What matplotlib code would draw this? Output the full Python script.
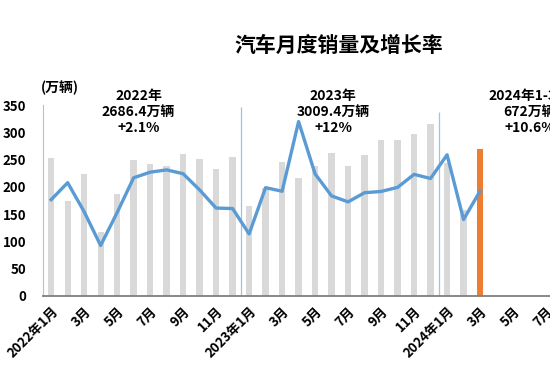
import matplotlib
matplotlib.use('Agg')
import matplotlib.pyplot as plt

# 中文字体
plt.rcParams['font.family'] = ['Noto Sans CJK SC', 'DejaVu Sans']
plt.rcParams['axes.unicode_minus'] = False

# 月度销量(万辆) 2022年1月 - 2024年3月
sales = [253.1, 173.7, 223.4, 118.1, 186.2, 250.2, 242.0, 238.3, 261.0, 250.5, 232.7, 255.6,
         164.9, 197.6, 245.1, 216.0, 238.2, 262.2, 238.7, 258.2, 285.8, 285.3, 297.0, 315.6,
         243.9, 158.4, 269.4]
# 同比增长率(%)
growth = [0.9, 18.7, -11.7, -47.1, -12.6, 23.8, 29.7, 32.1, 28.1, 11.1, -7.9, -8.4,
          -35.0, 13.5, 9.7, 82.7, 27.9, 4.8, -1.4, 8.2, 9.5, 13.8, 27.4, 23.1,
          47.9, -19.9, 9.9]
tick_labels = ['2022年1月', '3月', '5月', '7月', '9月', '11月',
               '2023年1月', '3月', '5月', '7月', '9月', '11月',
               '2024年1月', '3月', '5月', '7月']
year_notes = ['2022年\n2686.4万辆\n+2.1%', '2023年\n3009.4万辆\n+12%', '2024年1-3月\n672万辆\n+10.6%']

fig = plt.figure(figsize=(5.5, 3.78), dpi=100)
ax = fig.add_axes([0.078, 0.217, 0.922, 0.505])

x = list(range(len(sales)))
colors = ['#d9d9d9'] * (len(sales) - 1) + ['#ed7d31']
ax.bar(x, sales, width=0.38, color=colors, zorder=1)

ax.set_xlim(-0.5, 30.24)
ax.set_ylim(0, 350)
ax.set_yticks(range(0, 351, 50))
ax.set_xticks(range(0, 31, 2))
ax.set_xticklabels(tick_labels, rotation=45, ha='right', rotation_mode='anchor',
                   fontsize=9.5, fontweight='bold')
for t in ax.get_yticklabels():
    t.set_fontweight('bold')
    t.set_fontsize(9.5)
ax.tick_params(axis='both', length=0)
ax.tick_params(axis='y', pad=12)
ax.tick_params(axis='x', pad=6)

for s in ['top', 'right']:
    ax.spines[s].set_visible(False)
ax.spines['left'].set_color('#bfbfbf')
ax.spines['bottom'].set_color('#7f7f7f')
ax.spines['bottom'].set_linewidth(1.3)

# 年份分隔线
ax.vlines([11.5, 23.5], 0, [346, 337], color='#9dc3e6', linewidth=0.9, zorder=2)

# 增长率折线(隐藏副轴)
ax2 = ax.twinx()
ax2.plot(x, growth, color='#5b9bd5', linewidth=2.4, zorder=3)
ax2.set_ylim(-100, 100)
ax2.axis('off')

# 年度注释
for xp, note in zip([5.3, 17.1, 29.0], year_notes):
    ax.text(xp, 337, note, ha='center', va='center', fontsize=10,
            fontweight='bold', linespacing=1.2, clip_on=False)

fig.text(41 / 550, 1 - 88 / 378, '(万辆)', fontsize=10, fontweight='bold', va='center')
fig.text(339 / 550, 1 - 45 / 378, '汽车月度销量及增长率', fontsize=15, fontweight='bold',
         ha='center', va='center')

fig.savefig('out.png', dpi=100)
